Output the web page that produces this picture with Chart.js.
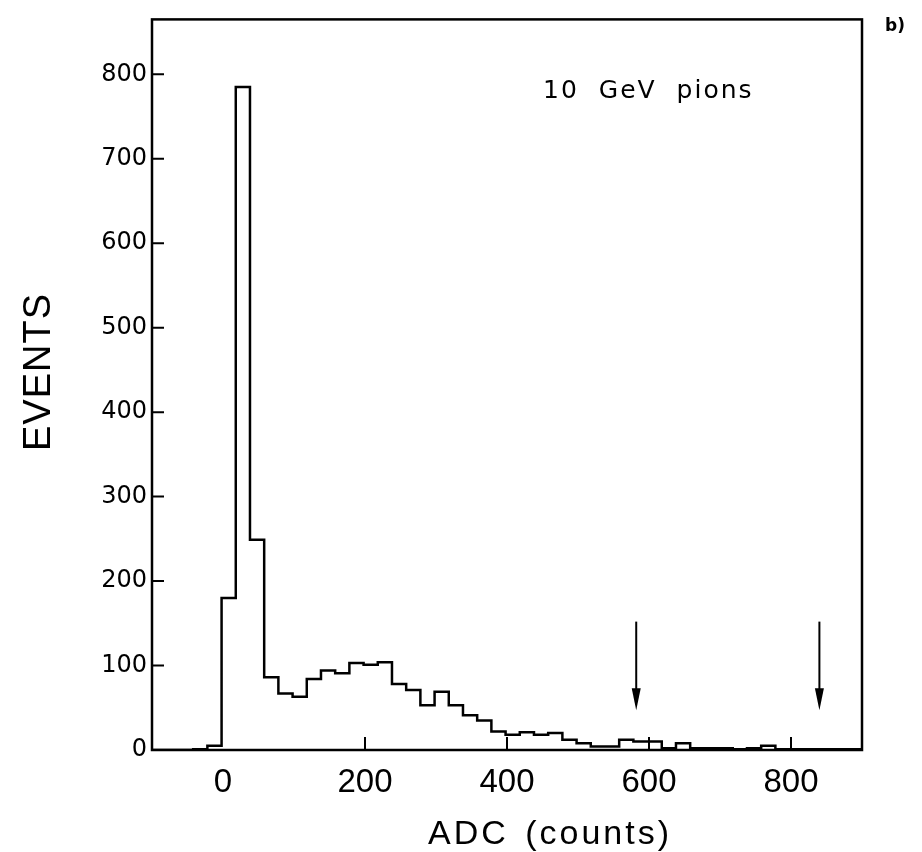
<!DOCTYPE html>
<html>
<head>
<meta charset="utf-8">
<script src="https://cdn.jsdelivr.net/npm/chart.js@4.4.1/dist/chart.umd.min.js"></script>
<style>
  html, body { margin: 0; padding: 0; background: #fff; }
  #wrap { width: 922px; height: 852px; }
</style>
</head>
<body>
<div id="wrap"><canvas id="adcChart" width="922" height="852"></canvas></div>
<script>
// bin edges (ADC counts), one more than the counts
const binEdges = [-100, -82, -62, -42, -22, -2, 18, 38, 58, 78, 98, 118, 138, 158, 178, 198,
    218, 238, 258, 278, 298, 318, 338, 358, 378, 398, 418, 438, 458, 478, 498, 518, 538,
    558, 578, 598, 618, 638, 658, 678, 698, 718, 738, 758, 778, 798, 818, 838, 858, 878, 900];
// events per bin
const binCounts = [0, 0, 0, 1, 5, 180, 785, 249, 86, 67, 63, 84, 94, 91, 103, 101,
    104, 78, 71, 53, 69, 53, 41, 35, 22, 18, 21, 18, 20, 12, 8, 4, 4,
    12, 10, 10, 2, 8, 2, 2, 2, 1, 2, 5, 1, 1, 1, 1, 1, 1];
const xTicks = [0, 200, 400, 600, 800];
const yTicks = [0, 100, 200, 300, 400, 500, 600, 700, 800];
// cut markers
const arrowAdc = [582, 840];
const arrowTop = 152;
const arrowTip = 47;

const points = binEdges.map((e, i) => ({ x: e, y: binCounts[Math.min(i, binCounts.length - 1)] }));

const framePlugin = {
    id: 'frame',
    afterDraw(chart) {
        const ctx = chart.ctx;
        const area = chart.chartArea;
        const xs = chart.scales.x;
        const ys = chart.scales.y;
        ctx.save();
        ctx.strokeStyle = '#000';
        ctx.fillStyle = '#000';
        ctx.lineWidth = 2.5;
        ctx.strokeRect(area.left, area.top, area.right - area.left, area.bottom - area.top);

        // inward tick marks (the one at 0 hides under the histogram edge)
        ctx.lineWidth = 2;
        ctx.beginPath();
        yTicks.forEach(v => {
            const py = ys.getPixelForValue(v);
            ctx.moveTo(area.left, py);
            ctx.lineTo(area.left + 12, py);
        });
        xTicks.filter(v => v > 0).forEach(v => {
            const px = xs.getPixelForValue(v);
            ctx.moveTo(px, area.bottom);
            ctx.lineTo(px, area.bottom - 13);
        });
        ctx.stroke();

        // arrows
        arrowAdc.forEach(a => {
            const px = xs.getPixelForValue(a);
            const y0 = ys.getPixelForValue(arrowTop);
            const y1 = ys.getPixelForValue(arrowTip);
            ctx.lineWidth = 2;
            ctx.beginPath();
            ctx.moveTo(px, y0);
            ctx.lineTo(px, y1 - 10);
            ctx.stroke();
            ctx.beginPath();
            ctx.moveTo(px - 4.5, y1 - 22);
            ctx.lineTo(px + 4.5, y1 - 22);
            ctx.lineTo(px, y1);
            ctx.closePath();
            ctx.fill();
        });

        const spaced = 'letterSpacing' in ctx;

        // label inside plot
        ctx.font = '25px "DejaVu Sans"';
        ctx.textAlign = 'left';
        ctx.textBaseline = 'alphabetic';
        if (spaced) { ctx.letterSpacing = '2px'; ctx.wordSpacing = '10px'; }
        ctx.fillText('10 GeV pions', 543, 98);

        // x title
        ctx.font = '34px "Liberation Sans"';
        ctx.textAlign = 'center';
        if (spaced) { ctx.letterSpacing = '3px'; ctx.wordSpacing = '4px'; }
        ctx.fillText('ADC (counts)', 550, 844);

        // y title
        if (spaced) { ctx.letterSpacing = '1px'; ctx.wordSpacing = '0px'; }
        ctx.save();
        ctx.translate(50, 372);
        ctx.rotate(-Math.PI / 2);
        ctx.font = '38px "Liberation Sans"';
        ctx.fillText('EVENTS', 0, 0);
        ctx.restore();

        // panel tag
        if (spaced) { ctx.letterSpacing = '0px'; }
        ctx.font = 'bold 17px "DejaVu Sans"';
        ctx.textAlign = 'left';
        ctx.fillText('b)', 885, 31);
        ctx.restore();
    }
};

document.addEventListener('DOMContentLoaded', () => {
    const el = document.getElementById('adcChart');
    new Chart(el, {
        type: 'line',
        data: {
            datasets: [{
                data: points,
                borderColor: '#000',
                borderWidth: 2.5,
                pointRadius: 0,
                fill: false,
                stepped: true,
                tension: 0
            }]
        },
        options: {
            responsive: false,
            animation: false,
            layout: { padding: { left: 0, right: 60, top: 18, bottom: 0 } },
            plugins: {
                legend: { display: false },
                tooltip: { enabled: false }
            },
            scales: {
                x: {
                    type: 'linear',
                    min: -100,
                    max: 900,
                    afterBuildTicks: s => { s.ticks = xTicks.map(v => ({ value: v })); },
                    afterFit: s => { s.height = 102; },
                    grid: { display: false, drawTicks: false },
                    border: { display: false },
                    ticks: {
                        color: '#000',
                        padding: 13,
                        maxRotation: 0,
                        font: { family: '"Liberation Sans"', size: 33 }
                    }
                },
                y: {
                    min: 0,
                    max: 865,
                    afterBuildTicks: s => { s.ticks = yTicks.map(v => ({ value: v })); },
                    afterFit: s => { s.width = 152; },
                    grid: { display: false, drawTicks: false },
                    border: { display: false },
                    ticks: {
                        color: '#000',
                        padding: 5,
                        font: { family: '"DejaVu Sans"', size: 24 }
                    }
                }
            }
        },
        plugins: [framePlugin]
    });
});
</script>
</body>
</html>
